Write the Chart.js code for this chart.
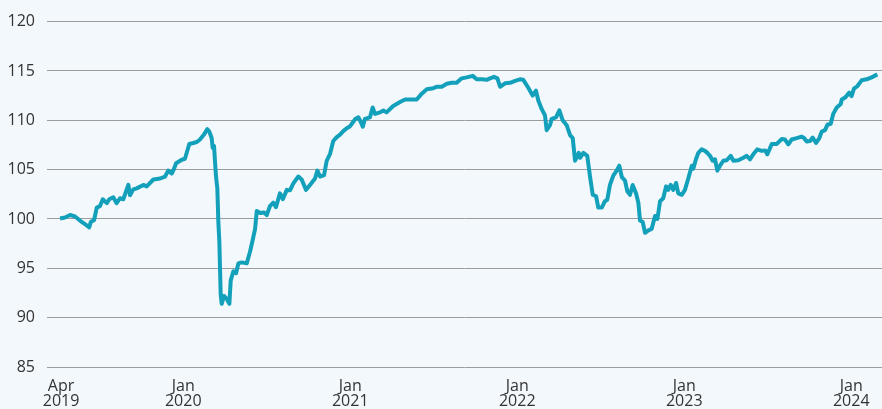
<!DOCTYPE html>
<html>
<head>
<meta charset="utf-8">
<script src="https://cdn.jsdelivr.net/npm/chart.js@4/dist/chart.umd.min.js"></script>
<style>
  html, body { margin: 0; padding: 0; background: #f3f8fc; }
  #wrap { width: 882px; height: 409px; }
</style>
</head>
<body>
<div id="wrap"><canvas id="canvas" width="882" height="409"></canvas></div>
<script>
// time as decimal year, index value
var dates = [
  2019.262, 2019.292, 2019.322, 2019.352, 2019.392, 2019.422, 2019.437, 2019.446, 2019.466, 2019.482,
  2019.501, 2019.518, 2019.542, 2019.557, 2019.581, 2019.601, 2019.621, 2019.641, 2019.671, 2019.681,
  2019.701, 2019.721, 2019.761, 2019.781, 2019.821, 2019.861, 2019.891, 2019.910, 2019.931, 2019.945,
  2019.957, 2019.991, 2020.010, 2020.036, 2020.060, 2020.081, 2020.100, 2020.124, 2020.144, 2020.156,
  2020.170, 2020.176, 2020.184, 2020.196, 2020.204, 2020.210, 2020.216, 2020.224, 2020.230, 2020.244,
  2020.260, 2020.276, 2020.284, 2020.300, 2020.316, 2020.330, 2020.350, 2020.380, 2020.400, 2020.416,
  2020.430, 2020.440, 2020.460, 2020.484, 2020.500, 2020.519, 2020.539, 2020.555, 2020.579, 2020.596,
  2020.620, 2020.639, 2020.659, 2020.689, 2020.709, 2020.735, 2020.759, 2020.789, 2020.803, 2020.819,
  2020.843, 2020.859, 2020.879, 2020.898, 2020.919, 2020.939, 2020.958, 2020.979, 2020.999, 2021.018,
  2021.028, 2021.048, 2021.058, 2021.075, 2021.088, 2021.118, 2021.134, 2021.148, 2021.178, 2021.198,
  2021.217, 2021.257, 2021.298, 2021.328, 2021.398, 2021.428, 2021.458, 2021.497, 2021.521, 2021.548,
  2021.578, 2021.607, 2021.637, 2021.667, 2021.697, 2021.733, 2021.757, 2021.787, 2021.817, 2021.837,
  2021.861, 2021.881, 2021.897, 2021.927, 2021.957, 2021.987, 2022.016, 2022.036, 2022.066, 2022.092,
  2022.112, 2022.126, 2022.146, 2022.166, 2022.176, 2022.196, 2022.206, 2022.232, 2022.252, 2022.272,
  2022.296, 2022.316, 2022.332, 2022.346, 2022.368, 2022.376, 2022.396, 2022.419, 2022.436, 2022.452,
  2022.472, 2022.485, 2022.506, 2022.525, 2022.539, 2022.555, 2022.575, 2022.595, 2022.611, 2022.626,
  2022.645, 2022.659, 2022.675, 2022.691, 2022.711, 2022.725, 2022.735, 2022.751, 2022.765, 2022.785,
  2022.805, 2022.825, 2022.839, 2022.855, 2022.874, 2022.891, 2022.904, 2022.919, 2022.934, 2022.951,
  2022.964, 2022.985, 2023.004, 2023.024, 2023.045, 2023.054, 2023.070, 2023.084, 2023.104, 2023.124,
  2023.138, 2023.154, 2023.170, 2023.184, 2023.198, 2023.214, 2023.234, 2023.254, 2023.278, 2023.294,
  2023.324, 2023.354, 2023.374, 2023.394, 2023.413, 2023.437, 2023.464, 2023.484, 2023.497, 2023.524,
  2023.554, 2023.583, 2023.603, 2023.623, 2023.643, 2023.673, 2023.703, 2023.717, 2023.733, 2023.753,
  2023.769, 2023.789, 2023.809, 2023.823, 2023.843, 2023.857, 2023.877, 2023.892, 2023.913, 2023.937,
  2023.943, 2023.963, 2023.988, 2024.002, 2024.016, 2024.036, 2024.062, 2024.092, 2024.122, 2024.156
];
var values = [
  100.05, 100.15, 100.4, 100.25, 99.7, 99.35, 99.15, 99.7, 99.9, 101.15,
  101.3, 102.0, 101.6, 102.0, 102.2, 101.6, 102.1, 102.0, 103.45, 102.4,
  103.0, 103.1, 103.45, 103.3, 104.0, 104.1, 104.3, 104.9, 104.6, 105.1,
  105.65, 106.0, 106.1, 107.6, 107.7, 107.8, 108.05, 108.55, 109.1, 108.85,
  108.2, 107.2, 107.4, 104.3, 103.1, 99.7, 97.7, 92.4, 91.4, 92.2,
  91.9, 91.4, 93.75, 94.7, 94.5, 95.5, 95.6, 95.5, 96.7, 97.9,
  99.0, 100.8, 100.6, 100.65, 100.4, 101.3, 101.65, 101.2, 102.6, 102.0,
  102.95, 102.9, 103.6, 104.3, 104.0, 102.95, 103.45, 104.1, 104.9, 104.3,
  104.45, 105.9, 106.6, 107.9, 108.3, 108.55, 108.9, 109.2, 109.4, 109.85,
  110.1, 110.3, 110.0, 109.35, 110.15, 110.3, 111.3, 110.65, 110.8, 111.0,
  110.8, 111.45, 111.85, 112.1, 112.1, 112.7, 113.15, 113.25, 113.4, 113.4,
  113.7, 113.8, 113.8, 114.25, 114.35, 114.5, 114.15, 114.15, 114.1, 114.25,
  114.4, 114.25, 113.4, 113.75, 113.8, 114.0, 114.15, 114.1, 113.3, 112.5,
  113.0, 112.0, 111.15, 110.5, 109.0, 109.5, 110.15, 110.3, 111.0, 110.0,
  109.5, 108.5, 108.2, 105.9, 106.7, 106.2, 106.7, 106.4, 104.25, 102.45,
  102.3, 101.15, 101.15, 101.8, 101.95, 103.45, 104.4, 104.9, 105.4, 104.25,
  103.9, 102.8, 102.45, 103.45, 102.6, 101.65, 99.85, 99.7, 98.6, 98.85,
  99.0, 100.3, 100.0, 101.8, 102.1, 103.3, 102.95, 103.45, 102.95, 103.65,
  102.6, 102.45, 102.95, 104.1, 105.4, 105.1, 106.05, 106.7, 107.05, 106.9,
  106.7, 106.4, 105.9, 106.05, 104.9, 105.4, 105.9, 105.95, 106.4, 105.9,
  105.95, 106.2, 106.4, 106.05, 106.55, 107.05, 106.9, 106.95, 106.55, 107.6,
  107.6, 108.1, 108.05, 107.55, 108.05, 108.2, 108.35, 108.2, 107.85, 107.9,
  108.25, 107.7, 108.2, 108.85, 109.0, 109.55, 109.65, 110.65, 111.3, 111.65,
  112.1, 112.3, 112.8, 112.45, 113.2, 113.45, 114.05, 114.15, 114.35, 114.65
];
var tickPositions = [2019.268, 2020.0, 2021.0, 2022.0, 2023.0, 2024.0];
var tickLabels = [["Apr", "2019"], ["Jan", "2020"], ["Jan", "2021"], ["Jan", "2022"], ["Jan", "2023"], ["Jan", "2024"]];

var points = dates.map(function (d, i) { return { x: d, y: values[i] }; });

window.onload = function () {
  var ctx = document.getElementById("canvas").getContext("2d");
  window.myLine = new Chart(ctx, {
    type: 'line',
    data: {
      datasets: [{
        data: points,
        borderColor: '#12a0ba',
        borderWidth: 4,
        pointRadius: 0,
        tension: 0,
        borderJoinStyle: 'round',
        fill: false
      }]
    },
    options: {
      responsive: false,
      animation: false,
      layout: { padding: { top: 20, right: 0, bottom: 0, left: 0 } },
      plugins: { legend: { display: false }, tooltip: { enabled: false } },
      scales: {
        x: {
          type: 'linear',
          min: 2019.184,
          max: 2024.184,
          grid: { display: false },
          border: { display: false },
          afterBuildTicks: function (scale) {
            scale.ticks = tickPositions.map(function (v) { return { value: v }; });
          },
          afterFit: function (scale) { scale.height = 42; },
          ticks: {
            autoSkip: false,
            maxRotation: 0,
            padding: 4,
            color: '#333333',
            font: { family: 'Open Sans', size: 16, lineHeight: 0.95 },
            callback: function (value, index) { return tickLabels[index]; }
          }
        },
        y: {
          min: 85,
          max: 120,
          grid: { color: '#9c9c9c', lineWidth: 1, drawTicks: false },
          border: { display: false },
          afterFit: function (scale) { scale.width = 47; },
          ticks: {
            stepSize: 5,
            padding: 12,
            color: '#333333',
            font: { family: 'Open Sans', size: 16 }
          }
        }
      }
    }
  });
};
</script>
</body>
</html>
